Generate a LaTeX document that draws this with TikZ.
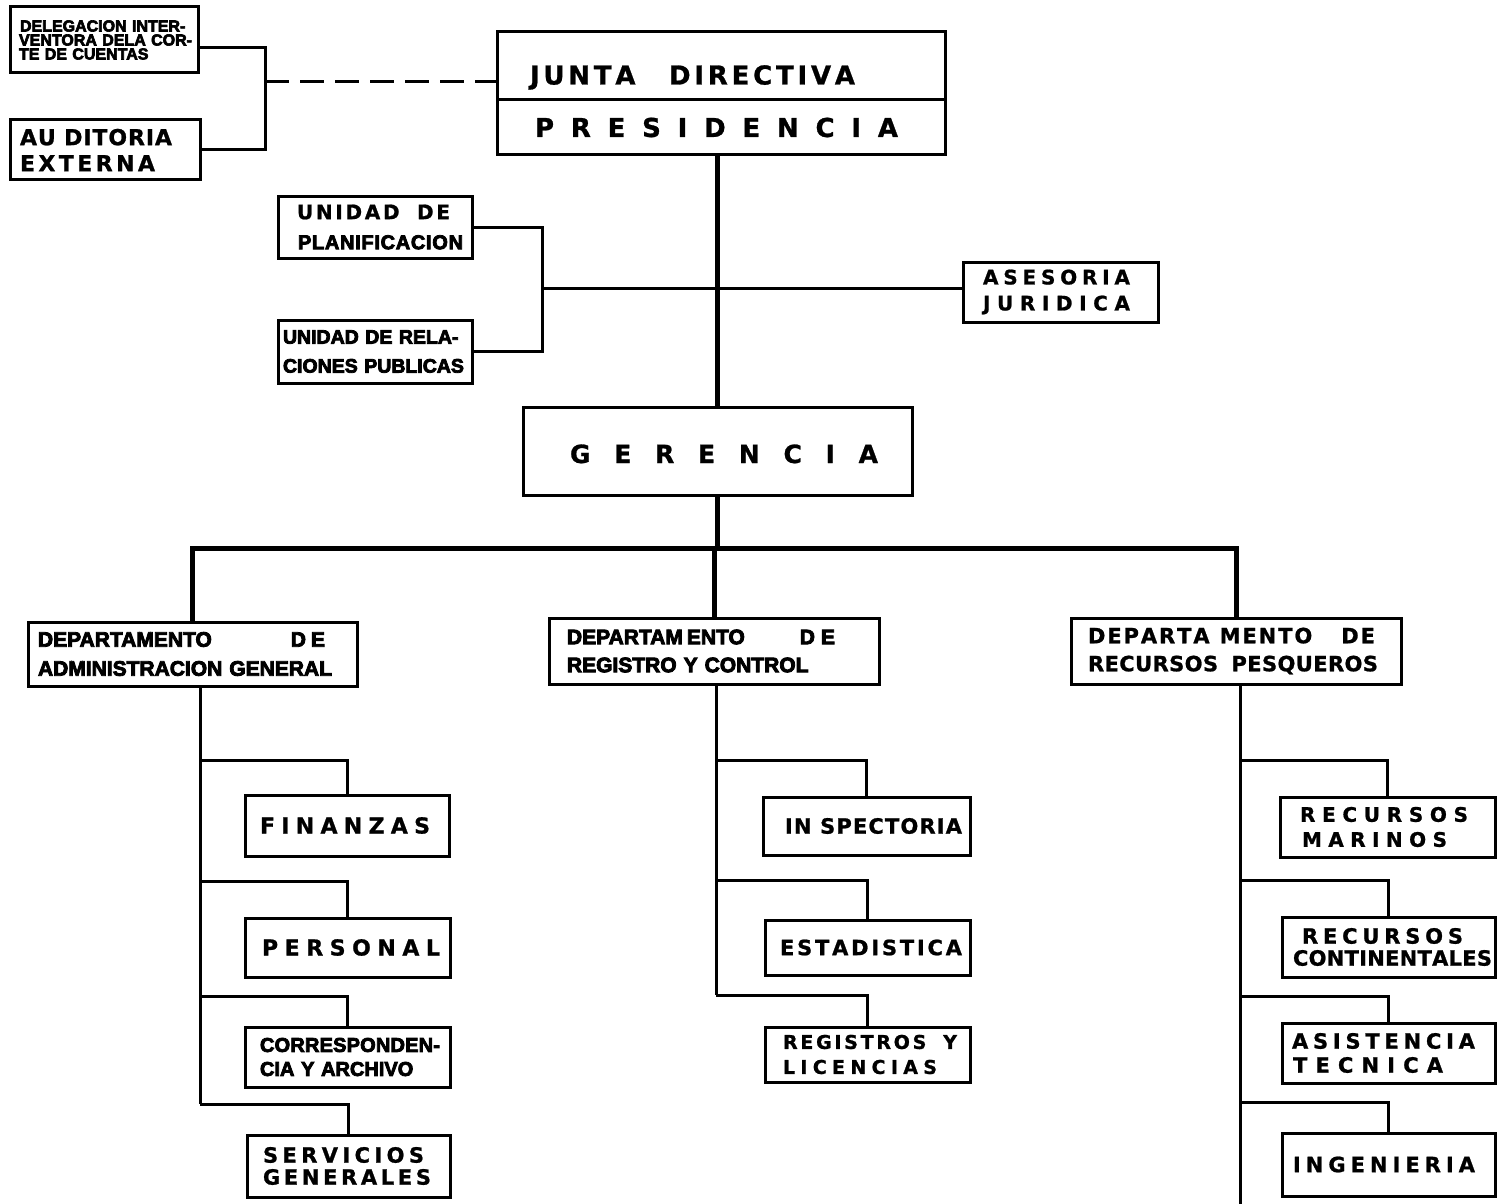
\documentclass[tikz,border=0pt]{standalone}
\usepackage{fontspec}
\setmainfont{Liberation Sans}[BoldFeatures={FakeBold=4}]
\newfontfamily\dvfont{DejaVu Sans}[BoldFeatures={FakeBold=1}]
\makeatletter
\def\Spread#1#2{\leavevmode\hbox to #1{\dvfont\bfseries\spr@first#2\relax}}
\def\SpreadL#1#2{\leavevmode\hbox to #1{\spr@first#2\relax}}
\def\spr@first#1{#1\spr@rest}
\def\spr@rest#1{\ifx\relax#1\else\hskip 0pt plus 1fil\relax #1\expandafter\spr@rest\fi}
\makeatother
\newcommand\ga{\hskip 0.3em\relax}
\newcommand\gb{\hskip 0.6em\relax}
\newcommand\gc{\hskip 1em\relax}
\newcommand\gd{\hskip 1.2em\relax}
\newcommand\fs[2]{\fontsize{#1}{#2}\selectfont\bfseries}
\tikzset{
  box/.style={draw, line width=3pt, inner sep=0pt, align=left, anchor=center,
    execute at begin node=\setlength\parindent{0pt}},
  conn/.style={line width=3pt},
  trunk/.style={line width=5pt},
}
\begin{document}
\begin{tikzpicture}[x=1pt,y=-1pt]
\fill[white] (0,0) rectangle (1497,1204);
\useasboundingbox (0,0) rectangle (1497,1204);

% top-left boxes
\node[box, minimum width=188pt, minimum height=66pt, text width=188pt, font=\fs{16}{14}] (deleg) at (104,40)
 {\hspace*{10pt}\makebox[173pt][s]{DELEGACION INTER-}\\
  \hspace*{9pt}\makebox[175pt][s]{VENTORA DELA COR-}\\
  \hspace*{9pt}\makebox[152pt][s]{TE DE CUENTAS}};
\node[box, minimum width=190pt, minimum height=60pt, text width=190pt, font=\fs{22}{26}] (audit) at (105,150)
 {\hspace*{10pt}\Spread{152pt}{AU\ga DITORIA}\\
  \hspace*{10pt}\Spread{135pt}{EXTERNA}};

% junta / presidencia
\node[box, minimum width=448pt, minimum height=68pt, text width=448pt, font=\fs{26}{30}] (junta) at (721,66)
 {\hspace*{33pt}\raisebox{-9pt}[19pt][0pt]{\Spread{325pt}{JUNTA\gc DIRECTIVA}}};
\node[box, minimum width=448pt, minimum height=55pt, text width=448pt, font=\fs{26}{30}] (presid) at (721,127.5)
 {\hspace*{38pt}\Spread{363pt}{PRESIDENCIA}};

% staff units
\node[box, minimum width=194pt, minimum height=62pt, text width=194pt, font=\fs{20}{30}] (plan) at (375,227)
 {\hspace*{19pt}\Spread{153pt}{UNIDAD\gb DE}\\
  \hspace*{20pt}\SpreadL{165pt}{PLANIFICACION}};
\node[box, minimum width=194pt, minimum height=63pt, text width=194pt, font=\fs{19.5}{29}] (rel) at (375,351.5)
 {\hspace*{5pt}\makebox[184pt][s]{UNIDAD DE RELA-}\\
  \hspace*{5pt}\makebox[180pt][s]{CIONES PUBLICAS}};
\node[box, minimum width=195pt, minimum height=60pt, text width=195pt, font=\fs{20}{26}] (ases) at (1060.5,292)
 {\hspace*{20pt}\Spread{147pt}{ASESORIA}\\
  \hspace*{20pt}\Spread{147pt}{JURIDICA}};

% gerencia
\node[box, minimum width=389pt, minimum height=88pt, text width=389pt, font=\fs{25}{30}] (ger) at (717.5,451)
 {\hspace*{47pt}\raisebox{-3pt}[18pt][0pt]{\Spread{308pt}{GERENCIA}}};

% departments
\node[box, minimum width=329pt, minimum height=64pt, text width=329pt, font=\fs{21}{29}] (dadm) at (192.5,654)
 {\hspace*{10pt}\makebox[287pt][l]{DEPARTAMENTO\hfill D\kern5pt E}\\
  \hspace*{10pt}\makebox[307pt][s]{ADMINISTRACION GENERAL}};
\node[box, minimum width=330pt, minimum height=66pt, text width=330pt, font=\fs{21}{28}] (dreg) at (714,651)
 {\hspace*{18pt}\makebox[268pt][l]{DEPARTAM\kern4pt ENTO\hfill D\kern6pt E}\\
  \hspace*{18pt}\makebox[286pt][s]{REGISTRO Y CONTROL}};
\node[box, minimum width=330pt, minimum height=66pt, text width=330pt, font=\fs{21}{28}] (drec) at (1236,651)
 {\hspace*{17pt}\Spread{287pt}{DEPARTA\ga MENTO\gd DE}\\
  \hspace*{17pt}\Spread{290pt}{RECURSOS\gb PESQUEROS}};

% admin sections
\node[box, minimum width=204pt, minimum height=61pt, text width=204pt, font=\fs{22}{26}] (fin) at (347,825.5)
 {\hspace*{15pt}\Spread{170pt}{FINANZAS}};
\node[box, minimum width=205pt, minimum height=59pt, text width=205pt, font=\fs{22}{26}] (pers) at (347.5,947.5)
 {\hspace*{17pt}\Spread{178pt}{PERSONAL}};
\node[box, minimum width=205pt, minimum height=60pt, text width=205pt, font=\fs{20}{24}] (corr) at (347.5,1057)
 {\hspace*{15pt}\SpreadL{180pt}{CORRESPONDEN-}\\
  \hspace*{15pt}\makebox[175pt][s]{CIA Y ARCHIVO}};
\node[box, minimum width=203pt, minimum height=62pt, text width=203pt, font=\fs{21}{22}] (serv) at (348.5,1166)
 {\hspace*{16pt}\Spread{161pt}{SERVICIOS}\\
  \hspace*{16pt}\Spread{168pt}{GENERALES}};

% registro sections
\node[box, minimum width=207pt, minimum height=58pt, text width=207pt, font=\fs{21}{26}] (insp) at (866.5,826)
 {\hspace*{22pt}\Spread{177pt}{IN\ga SPECTORIA}};
\node[box, minimum width=205pt, minimum height=55pt, text width=205pt, font=\fs{21}{26}] (est) at (867.5,947.5)
 {\hspace*{15pt}\Spread{182pt}{ESTADISTICA}};
\node[box, minimum width=205pt, minimum height=55pt, text width=205pt, font=\fs{19}{25}] (regl) at (867.5,1054.5)
 {\hspace*{18pt}\Spread{174pt}{REGISTROS\gb Y}\\
  \hspace*{18pt}\Spread{154pt}{LICENCIAS}};

% recursos sections
\node[box, minimum width=215pt, minimum height=60pt, text width=215pt, font=\fs{20}{25}] (rmar) at (1387.5,827)
 {\hspace*{20pt}\Spread{168pt}{RECURSOS}\\
  \hspace*{22pt}\Spread{145pt}{MARINOS}};
\node[box, minimum width=213pt, minimum height=60pt, text width=213pt, font=\fs{21}{22}] (rcon) at (1388.5,947)
 {\hspace*{20pt}\Spread{161pt}{RECURSOS}\\
  \hspace*{11pt}\Spread{199pt}{CONTINENTALES}};
\node[box, minimum width=213pt, minimum height=60pt, text width=213pt, font=\fs{21}{24}] (asis) at (1388.5,1053)
 {\hspace*{10pt}\Spread{183pt}{ASISTENCIA}\\
  \hspace*{11pt}\Spread{150pt}{TECNICA}};
\node[box, minimum width=213pt, minimum height=63pt, text width=213pt, font=\fs{21}{26}] (ing) at (1388.5,1164.5)
 {\hspace*{11pt}\Spread{182pt}{INGENIERIA}};

% ---- connectors ----
% control bodies
\coordinate (cx) at (265,82);
\draw[conn] ([yshift=-8pt]deleg.east) -| (cx) |- (audit.east);
\draw[conn, dash pattern=on 24pt off 11pt] (cx) -- (cx -| junta.west);

% main trunk
\coordinate (tx) at (717,548);
\draw[trunk] (tx |- presid.south) -- (tx |- ger.north);
\coordinate (sj) at (542,288);
\draw[conn] (plan.east) -| (sj) |- (rel.east);
\draw[conn] (sj) -- (sj -| ases.west);

% gerencia to departments
\draw[trunk] (tx |- ger.south) -- (tx);
\draw[trunk] (dadm.north) -- (dadm.north |- tx) -- (drec.north |- tx) -- (drec.north);
\draw[trunk] (dreg.north) -- (dreg.north |- tx);

% admin branches
\coordinate (a1) at (200,760);
\coordinate (a2) at (200,881);
\coordinate (a3) at (200,996);
\coordinate (a4) at (200,1104);
\draw[conn] (a1 |- dadm.south) -- (a4);
\draw[conn] (a1) -| (fin.north);
\draw[conn] (a2) -| (pers.north);
\draw[conn] (a3) -| (corr.north);
\draw[conn] (a4) -| (serv.north);

% registro branches
\coordinate (r1) at (716,760);
\coordinate (r2) at (716,880);
\coordinate (r3) at (716,995);
\draw[conn] (r1 |- dreg.south) -- (r3);
\draw[conn] (r1) -| (insp.north);
\draw[conn] (r2) -| (est.north);
\draw[conn] (r3) -| (regl.north);

% recursos branches
\coordinate (p1) at (1240,760);
\coordinate (p2) at (1240,880);
\coordinate (p3) at (1240,996);
\coordinate (p4) at (1240,1102);
\coordinate (p5) at (1240,1204);
\draw[conn] (p1 |- drec.south) -- (p5);
\draw[conn] (p1) -| (rmar.north);
\draw[conn] (p2) -| (rcon.north);
\draw[conn] (p3) -| (asis.north);
\draw[conn] (p4) -| (ing.north);
\end{tikzpicture}
\end{document}
